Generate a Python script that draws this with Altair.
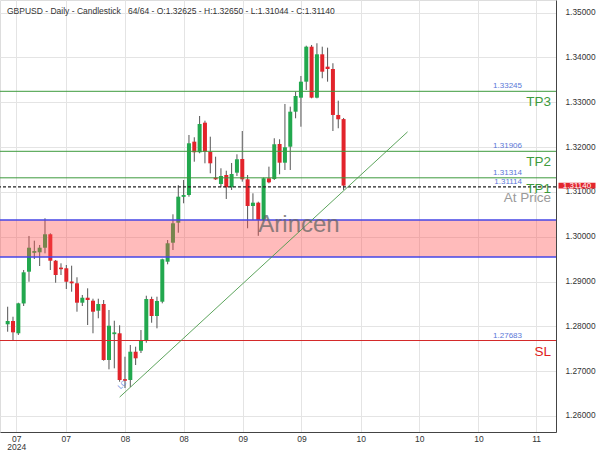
import json
import altair as alt
import pandas as pd

# ---------------- data ----------------
opens = [1.28045, 1.28118, 1.27844, 1.28510, 1.29219, 1.29640, 1.29652, 1.29754, 1.30054, 1.29464,
         1.29310, 1.29295, 1.29000, 1.28960, 1.28527, 1.28638, 1.28571, 1.28348, 1.28498, 1.27248,
         1.27825, 1.27844, 1.26820, 1.26801, 1.27433, 1.27455, 1.27679, 1.28609, 1.28230, 1.28549,
         1.29442, 1.29866, 1.30313, 1.30890, 1.30931, 1.32121, 1.31884, 1.32545, 1.31897, 1.31320,
         1.31176, 1.31377, 1.31103, 1.31429, 1.31734, 1.31281, 1.30685, 1.30759, 1.30373, 1.31304,
         1.31288, 1.32069, 1.31652, 1.32009, 1.32790, 1.33103, 1.33460, 1.34241, 1.33103, 1.34071,
         1.33795, 1.33743, 1.32717, 1.32625]
highs = [1.28437, 1.28214, 1.28527, 1.29257, 1.30016, 1.29911, 1.29815, 1.30411, 1.30076, 1.29480,
         1.29406, 1.29368, 1.29353, 1.29094, 1.28699, 1.28848, 1.28616, 1.28616, 1.28587, 1.28364,
         1.28125, 1.28022, 1.27321, 1.27583, 1.27545, 1.27917, 1.28683, 1.28661, 1.28661, 1.29509,
         1.29926, 1.30500, 1.31147, 1.31266, 1.32270, 1.32219, 1.32694, 1.32589, 1.32232, 1.31786,
         1.31527, 1.31473, 1.31645, 1.31839, 1.32359, 1.31377, 1.30969, 1.30781, 1.31320, 1.31563,
         1.32197, 1.32174, 1.32962, 1.32902, 1.33237, 1.33587, 1.34263, 1.34279, 1.34317, 1.34241,
         1.34219, 1.33871, 1.33036, 1.32650]
lows = [1.27879, 1.27672, 1.27806, 1.28453, 1.28995, 1.29502, 1.29346, 1.29629, 1.29257, 1.28973,
        1.29145, 1.28833, 1.28772, 1.28326, 1.28453, 1.28029, 1.27844, 1.28179, 1.27232, 1.27040,
        1.27062, 1.26763, 1.26623, 1.26645, 1.27136, 1.27404, 1.27634, 1.28080, 1.27955, 1.28513,
        1.29384, 1.29703, 1.30089, 1.30746, 1.30893, 1.31674, 1.31862, 1.31638, 1.31415, 1.31266,
        1.31103, 1.30842, 1.31042, 1.31355, 1.31228, 1.30188, 1.30373, 1.30020, 1.30350, 1.31192,
        1.31266, 1.31393, 1.31489, 1.31489, 1.32643, 1.32455, 1.33275, 1.33089, 1.33089, 1.33536,
        1.33460, 1.32359, 1.32420, 1.31044]
closes = [1.28118, 1.27866, 1.28513, 1.29205, 1.29754, 1.29680, 1.29754, 1.30054, 1.29464, 1.29145,
          1.29275, 1.28995, 1.28960, 1.28527, 1.28638, 1.28587, 1.28326, 1.28498, 1.27248, 1.28013,
          1.27865, 1.26801, 1.26785, 1.27433, 1.27286, 1.27679, 1.28609, 1.28230, 1.28565, 1.29496,
          1.29853, 1.30299, 1.30893, 1.30930, 1.32085, 1.31884, 1.32516, 1.31897, 1.31638, 1.31280,
          1.31355, 1.31103, 1.31400, 1.31728, 1.31281, 1.30685, 1.30759, 1.30373, 1.31304, 1.31214,
          1.32063, 1.31652, 1.31996, 1.32790, 1.33141, 1.33460, 1.34241, 1.33103, 1.34071, 1.33683,
          1.33743, 1.32717, 1.32621, 1.31140]

# x axis (bar index positions of month labels)
x_tick_pos = [1.6, 10.9, 22.0, 33.0, 44.1, 55.1, 66.2, 77.2, 88.3, 99.1]
x_tick_labels = [["07", "2024"], "07", "08", "08", "09", "09", "10", "10", "10", "11"]
y_ticks = [1.26, 1.265, 1.27, 1.275, 1.28, 1.285, 1.29, 1.295, 1.30, 1.305, 1.31,
           1.315, 1.32, 1.325, 1.33, 1.335, 1.34, 1.345, 1.35]
x_domain = [-0.5, 101.9]
y_domain = [1.25641, 1.35283]

# levels
tp_levels = [1.33245, 1.31906, 1.31314]
tp_names = ["TP3", "TP2", "TP1"]
sl_level = 1.27683
price_line = 1.31114
last_price = 1.31140
zone_top = 1.30373
zone_bottom = 1.29547
trend_idx = [21, 75]
trend_price = [1.2642, 1.3234]

title_text = ("GBPUSD - Daily - Candlestick\u00a0\u00a0\u00a064/64 - O:1.32625 - H:1.32650 "
              "- L:1.31044 - C:1.31140")

GREEN = "#22a84e"
RED = "#e2242b"
LEVEL_GREEN = "#3d9a3d"
BLUE = "#4646e6"
FONT = "Liberation Sans"

candles = pd.DataFrame({"i": list(range(len(opens))), "o": opens, "h": highs, "l": lows, "c": closes})

xs = alt.Scale(domain=x_domain, nice=False, zero=False)
ys = alt.Scale(domain=y_domain, nice=False, zero=False)

label_expr = f"{json.dumps(x_tick_labels)}[indexof({json.dumps(x_tick_pos)}, datum.value)]"

x_axis = alt.Axis(values=x_tick_pos, labelExpr=label_expr, title=None, grid=True,
                  gridColor="#e4e4e4", domainColor="#444", ticks=False, labelPadding=2,
                  labelFontSize=8.5, labelColor="#333", labelFont=FONT, labelAlign="center",
                  labelBaseline="top", labelLineHeight=8.5)
y_axis = alt.Axis(orient="right", values=y_ticks, format=".5f", title=None, grid=True,
                  gridColor="#e4e4e4", domainColor="#444", ticks=False, labelPadding=9,
                  labelFontSize=8.3, labelColor="#333", labelFont=FONT, zindex=0)

base = alt.Chart(candles)

wicks = base.mark_rule(color="#555", strokeWidth=1).encode(
    x=alt.X("i:Q", scale=xs, axis=x_axis),
    y=alt.Y("l:Q", scale=ys, axis=y_axis),
    y2="h:Q",
)
bodies = base.mark_bar(size=4).encode(
    x=alt.X("i:Q", scale=xs),
    y=alt.Y("o:Q", scale=ys),
    y2="c:Q",
    color=alt.condition("datum.c >= datum.o", alt.value(GREEN), alt.value(RED)),
)

zone_df = pd.DataFrame({"top": [zone_top], "bottom": [zone_bottom]})
zone = alt.Chart(zone_df).mark_rect(color="#ff4d4d", opacity=0.38).encode(
    y=alt.Y("top:Q", scale=ys), y2="bottom:Q"
)
zone_lines = alt.Chart(pd.DataFrame({"p": [zone_top, zone_bottom]})).mark_rule(
    color=BLUE, strokeWidth=1.3
).encode(y=alt.Y("p:Q", scale=ys))

tp_rules = alt.Chart(pd.DataFrame({"p": tp_levels})).mark_rule(
    color=LEVEL_GREEN, strokeWidth=1
).encode(y=alt.Y("p:Q", scale=ys))
sl_rule = alt.Chart(pd.DataFrame({"p": [sl_level]})).mark_rule(
    color="#d42a2a", strokeWidth=1
).encode(y=alt.Y("p:Q", scale=ys))
price_rule = alt.Chart(pd.DataFrame({"p": [price_line]})).mark_rule(
    color="#222", strokeWidth=1.2, strokeDash=[3, 2]
).encode(y=alt.Y("p:Q", scale=ys))

trend = alt.Chart(pd.DataFrame({"i": trend_idx, "p": trend_price})).mark_line(
    color="#4a9a4a", strokeWidth=0.9
).encode(x=alt.X("i:Q", scale=xs), y=alt.Y("p:Q", scale=ys))

val_df = pd.DataFrame({
    "p": tp_levels + [price_line, sl_level],
    "t": ["%.5f" % v for v in tp_levels] + ["%.5f" % price_line, "%.5f" % sl_level],
})
val_text = alt.Chart(val_df).mark_text(
    align="right", baseline="middle", dy=-5, fontSize=8, color="#5a78d8", font=FONT
).encode(x=alt.value(522), y=alt.Y("p:Q", scale=ys), text="t:N")

big_df = pd.DataFrame({
    "p": tp_levels + [price_line, sl_level],
    "t": tp_names + ["At Price", "SL"],
    "col": [LEVEL_GREEN, LEVEL_GREEN, LEVEL_GREEN, "#9a9a9a", "#e02020"],
})
big_text = alt.Chart(big_df).mark_text(
    align="right", baseline="middle", dy=11, fontSize=13.5, font=FONT
).encode(x=alt.value(551), y=alt.Y("p:Q", scale=ys), text="t:N",
         color=alt.Color("col:N", scale=None))

watermark = alt.Chart(pd.DataFrame({"t": ["Arincen"]})).mark_text(
    fontSize=24, color="#666", opacity=0.75, font=FONT, baseline="middle"
).encode(x=alt.value(299), y=alt.value(225), text="t:N")

lc_mark = alt.Chart(pd.DataFrame({"i": [21.5], "p": [1.2669], "t": ["LC"]})).mark_text(
    fontSize=7, color="#6a8be0", angle=315, font=FONT
).encode(x=alt.X("i:Q", scale=xs), y=alt.Y("p:Q", scale=ys), text="t:N")

title = alt.Chart(pd.DataFrame({"t": [title_text]})).mark_text(
    align="left", baseline="middle", fontSize=8.5, color="#333", font=FONT
).encode(x=alt.value(7), y=alt.value(11), text="t:N")

badge_shape = "M-1,-0.15 L1,-0.15 L1,0.15 L-1,0.15 Z"
badge = alt.Chart(pd.DataFrame({"p": [last_price]})).mark_point(
    shape=badge_shape, size=1369, filled=True, color="#e3262e", opacity=1
).encode(x=alt.value(577), y=alt.Y("p:Q", scale=ys))
badge_text = alt.Chart(pd.DataFrame({"p": [last_price], "t": ["%.5f" % last_price]})).mark_text(
    fontSize=8, color="white", font=FONT, baseline="middle"
).encode(x=alt.value(577), y=alt.Y("p:Q", scale=ys), text="t:N")

chart = alt.layer(
    wicks, bodies, zone, zone_lines, tp_rules, sl_rule, price_rule, trend,
    val_text, big_text, watermark, lc_mark, title, badge, badge_text
).properties(
    width=556, height=432,
    autosize=alt.AutoSizeParams(type="none"),
    padding={"left": 0, "top": 0, "right": 44, "bottom": 18},
).configure_view(stroke=None).configure(font=FONT, background="white")

chart.save("out.html", embed_options={"renderer": "svg", "actions": False})
